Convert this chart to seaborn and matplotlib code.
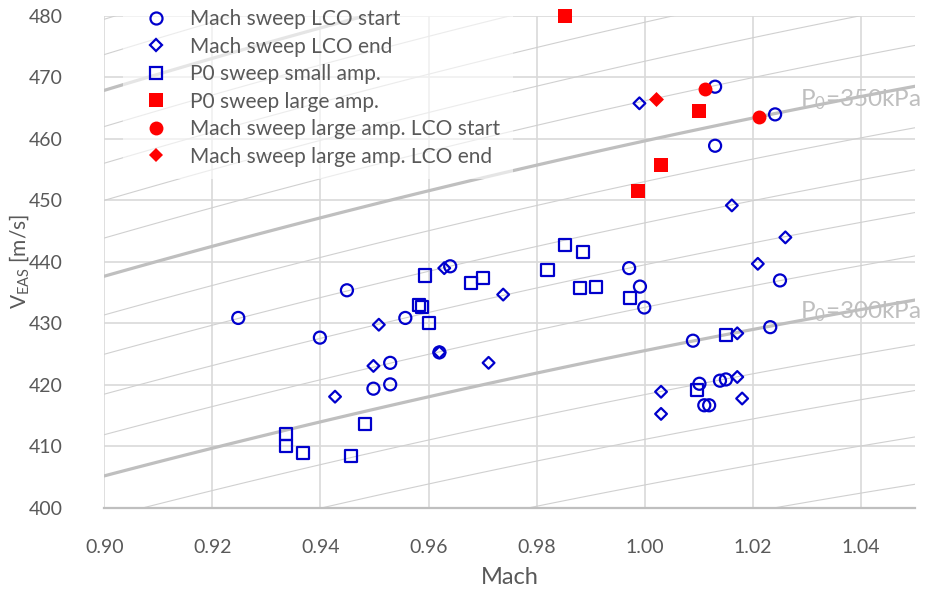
import numpy as np
import pandas as pd
import matplotlib
matplotlib.use("Agg")
import matplotlib.pyplot as plt
import seaborn as sns
from matplotlib.lines import Line2D

# Mach sweep, LCO start (open blue circles)
start_mach = [0.9248, 0.9399, 0.9449, 0.9557, 0.9640, 0.9620, 0.9529, 0.9529, 0.9498,
              0.9971, 0.9991, 0.9999, 1.0089, 1.0232, 1.0101, 1.0110, 1.0119, 1.0139,
              1.0150, 1.0250, 1.0130, 1.0130, 1.0241]
start_veas = [430.9, 427.7, 435.4, 430.9, 439.3, 425.3, 423.6, 420.1, 419.4,
              439.0, 436.0, 432.6, 427.2, 429.4, 420.2, 416.7, 416.7, 420.7,
              420.9, 437.0, 458.9, 468.5, 464.0]

# Mach sweep, LCO end (open blue diamonds)
end_mach = [0.9427, 0.9498, 0.9508, 0.9629, 0.9620, 0.9711, 0.9738, 0.9990, 1.0030,
            1.0030, 1.0171, 1.0171, 1.0180, 1.0209, 1.0260, 1.0161]
end_veas = [418.1, 423.1, 429.8, 439.0, 425.3, 423.6, 434.7, 465.8, 418.9,
            415.3, 428.4, 421.3, 417.8, 439.7, 444.0, 449.2]

# P0 sweep, small amplitude (open blue squares)
small_mach = [0.9336, 0.9336, 0.9368, 0.9457, 0.9482, 0.9582, 0.9588, 0.9594, 0.9601,
              0.9678, 0.9701, 0.9820, 0.9852, 0.9880, 0.9885, 0.9909, 0.9973, 1.0096,
              1.0150]
small_veas = [412.0, 410.1, 408.9, 408.5, 413.7, 433.0, 432.7, 437.8, 430.1,
              436.6, 437.4, 438.7, 442.8, 435.8, 441.7, 436.0, 434.1, 419.2,
              428.2]

# P0 sweep, large amplitude (filled red squares)
large_mach = [0.9852, 0.9987, 1.0030, 1.0100]
large_veas = [480.0, 451.6, 455.7, 464.5]

# Mach sweep, large amplitude, LCO start / end (filled red)
large_start_mach = [1.0111, 1.0211]
large_start_veas = [468.2, 463.6]
large_end_mach = [1.0021]
large_end_veas = [466.5]

# constant total pressure isolines [kPa]
p0_levels = [260, 270, 280, 290, 300, 310, 320, 330, 340, 350,
             360, 370, 380, 390, 400, 410, 420]
p0_bold = [300, 350, 400]
p0_labels = ["P$_0$=350kPa", "P$_0$=300kPa"]
p0_label_levels = [350, 300]

BLUE = "#0000CC"
RED = "#FF0000"
TXT = "#595959"

sns.set_style("white")
plt.rcParams["font.family"] = ["Lato", "DejaVu Sans"]
plt.rcParams["mathtext.fontset"] = "custom"
plt.rcParams["mathtext.rm"] = "Lato"
plt.rcParams["mathtext.it"] = "Lato"

fig = plt.figure(figsize=(9.32, 5.94), dpi=100)
ax = fig.add_axes([0.1118, 0.1448, 0.8701, 0.8283])


def veas(mach, p0_kpa):
    # isentropic static pressure -> equivalent airspeed
    p = p0_kpa * 1000.0 / (1 + 0.2 * mach ** 2) ** 3.5
    return mach * np.sqrt(1.4 * p / 1.225)


mach_grid = np.linspace(0.90, 1.05, 76)
for lvl in p0_levels:
    bold = lvl in p0_bold
    sns.lineplot(x=mach_grid, y=veas(mach_grid, lvl), ax=ax, sort=False,
                 color="#BFBFBF" if bold else "#D0D0D0",
                 linewidth=2.3 if bold else 0.8, zorder=1)

for lab, lvl in zip(p0_labels, p0_label_levels):
    ax.text(1.0287, veas(1.0287, lvl) + 1.5, lab, fontsize=17.5, color="#BFBFBF",
            ha="left", va="center", clip_on=False, zorder=2)

groups = [
    (start_mach, start_veas, "o", 75, True, BLUE, "Mach sweep LCO start"),
    (end_mach, end_veas, "D", 36, True, BLUE, "Mach sweep LCO end"),
    (small_mach, small_veas, "s", 75, True, BLUE, "P0 sweep small amp."),
    (large_mach, large_veas, "s", 105, False, RED, "P0 sweep large amp."),
    (large_start_mach, large_start_veas, "o", 100, False, RED, "Mach sweep large amp. LCO start"),
    (large_end_mach, large_end_veas, "D", 58, False, RED, "Mach sweep large amp. LCO end"),
]

handles = []
for xs, ys, mk, size, hollow, col, lab in groups:
    df = pd.DataFrame({"mach": xs, "veas": ys})
    if hollow:
        sns.scatterplot(data=df, x="mach", y="veas", ax=ax, marker=mk, s=size,
                        facecolors="none", edgecolor=col, linewidth=1.6,
                        zorder=3, clip_on=False)
    else:
        sns.scatterplot(data=df, x="mach", y="veas", ax=ax, marker=mk, s=size,
                        color=col, edgecolor=col, linewidth=0,
                        zorder=4, clip_on=False)
    handles.append(Line2D([], [], linestyle="none", marker=mk,
                          markersize=np.sqrt(size),
                          markerfacecolor="none" if hollow else col,
                          markeredgecolor=col,
                          markeredgewidth=1.6 if hollow else 0, label=lab))

ax.set_xlim(0.90, 1.05)
ax.set_ylim(400, 480)
ax.set_xticks([0.90, 0.92, 0.94, 0.96, 0.98, 1.00, 1.02, 1.04])
ax.set_yticks([400, 410, 420, 430, 440, 450, 460, 470, 480])
ax.xaxis.set_major_formatter(matplotlib.ticker.FormatStrFormatter("%.2f"))
ax.grid(True, color="#D9D9D9", linewidth=1.2, zorder=0)
ax.set_axisbelow(True)
for side in ["top", "right", "left"]:
    ax.spines[side].set_visible(False)
ax.spines["bottom"].set_color("#BFBFBF")
ax.spines["bottom"].set_linewidth(1.6)
ax.tick_params(axis="both", length=0, labelsize=14, labelcolor=TXT)
ax.tick_params(axis="x", pad=22)
ax.tick_params(axis="y", pad=30)
ax.set_xlabel("Mach", fontsize=17, color=TXT, labelpad=8)
ax.set_ylabel("V$_{EAS}$ [m/s]", fontsize=15, color=TXT, labelpad=-2)

leg = ax.legend(handles=handles, loc="upper left", bbox_to_anchor=(0.023, 1.039),
                borderaxespad=0, fontsize=15, frameon=True, framealpha=0.6,
                edgecolor="none", facecolor="white", handlelength=2.0,
                handletextpad=0.63, labelspacing=0.36, borderpad=0.6)
for t in leg.get_texts():
    t.set_color(TXT)

fig.savefig("out.png", dpi=100)
